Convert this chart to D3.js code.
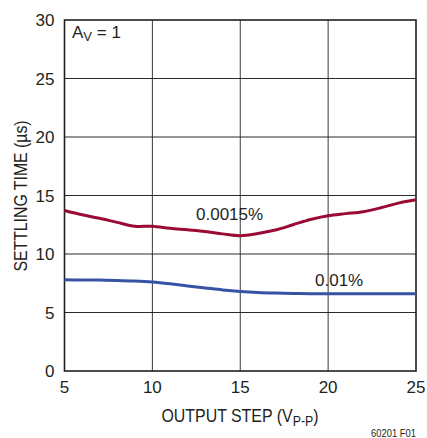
<!DOCTYPE html>
<html>
<head>
<meta charset="utf-8">
<script src="https://cdn.jsdelivr.net/npm/d3@7"></script>
<style>
  body { margin: 0; background: #fff; }
  text { font-family: "Liberation Sans Narrow", "Liberation Sans", sans-serif; fill: #231f20; }
</style>
</head>
<body>
<div id="chart"></div>
<script>
const width = 427, height = 438;
const margin = {top: 20, right: 11, bottom: 67, left: 64.5};

// data
const outputStep = [5, 6, 7, 8, 9, 10, 11, 12, 13, 14, 15, 16, 17, 18, 19, 20, 21, 22, 23, 24, 25];
const settle0015 = [13.72, 13.35, 13.05, 12.7, 12.37, 12.37, 12.2, 12.07, 11.93, 11.72, 11.57, 11.75, 12.05, 12.5, 12.95, 13.27, 13.45, 13.62, 13.95, 14.35, 14.63];
const settle001 = [7.8, 7.78, 7.77, 7.74, 7.69, 7.6, 7.45, 7.27, 7.1, 6.93, 6.8, 6.71, 6.66, 6.63, 6.61, 6.6, 6.6, 6.6, 6.6, 6.6, 6.6];
const xTicks = [5, 10, 15, 20, 25];
const yTicks = [0, 5, 10, 15, 20, 25, 30];

const svg = d3.select('#chart').append('svg')
    .attr('width', width).attr('height', height);

const x = d3.scaleLinear().domain([5, 25]).range([margin.left, width - margin.right]);
const y = d3.scaleLinear().domain([0, 30]).range([height - margin.bottom, margin.top]);

// grid
svg.append('g').selectAll('line.v')
    .data(xTicks.slice(1, -1))
    .enter().append('line')
    .attr('x1', d => x(d)).attr('x2', d => x(d))
    .attr('y1', y(30)).attr('y2', y(0))
    .attr('stroke', '#3a3a3a').attr('stroke-width', 1);

svg.append('g').selectAll('line.h')
    .data(yTicks.slice(1, -1))
    .enter().append('line')
    .attr('x1', x(5)).attr('x2', x(25))
    .attr('y1', d => y(d)).attr('y2', d => y(d))
    .attr('stroke', '#2a2a2a').attr('stroke-width', 1);

// frame
svg.append('rect')
    .attr('x', x(5)).attr('y', y(30))
    .attr('width', x(25) - x(5)).attr('height', y(0) - y(30))
    .attr('fill', 'none').attr('stroke', '#231f20').attr('stroke-width', 1.6);

// tick labels
svg.append('g').selectAll('text')
    .data(yTicks)
    .enter().append('text')
    .attr('x', x(5) - 10).attr('y', d => y(d) + 6)
    .attr('text-anchor', 'end')
    .style('font-size', '17px')
    .text(d => d);

svg.append('g').selectAll('text')
    .data(xTicks)
    .enter().append('text')
    .attr('x', d => x(d)).attr('y', y(0) + 22)
    .attr('text-anchor', 'middle')
    .style('font-size', '17px')
    .text(d => d);

// axis titles (squeezed horizontally to look like the narrow font of the original)
const xt = svg.append('text')
    .attr('transform', 'translate(240,422) scale(0.885,1)')
    .attr('text-anchor', 'middle')
    .style('font-size', '18px');
xt.append('tspan').text('OUTPUT STEP (V');
xt.append('tspan').attr('dy', 4).style('font-size', '14px').text('P-P');
xt.append('tspan').attr('dy', -4).text(')');

svg.append('text')
    .attr('transform', 'translate(27,196) rotate(-90) scale(0.88,1)')
    .attr('text-anchor', 'middle')
    .style('font-size', '18px')
    .text('SETTLING TIME (µs)');

const av = svg.append('text')
    .attr('x', 72).attr('y', 38)
    .style('font-size', '17px');
av.append('tspan').text('A');
av.append('tspan').attr('dy', 3).style('font-size', '13px').text('V');
av.append('tspan').attr('dy', -3).text(' = 1');

svg.append('text')
    .attr('x', 416).attr('y', 437)
    .attr('text-anchor', 'end')
    .attr('textLength', 45).attr('lengthAdjust', 'spacingAndGlyphs')
    .style('font-size', '11px')
    .text('60201 F01');

// curves
const line = d3.line()
    .curve(d3.curveCatmullRom)
    .x(d => x(d[0]))
    .y(d => y(d[1]));

svg.append('path')
    .attr('d', line(d3.zip(outputStep, settle0015)))
    .attr('fill', 'none').attr('stroke', '#9a0a34').attr('stroke-width', 3);

svg.append('path')
    .attr('d', line(d3.zip(outputStep, settle001)))
    .attr('fill', 'none').attr('stroke', '#3653a4').attr('stroke-width', 3);

// curve labels
svg.append('text')
    .attr('x', 196).attr('y', 220)
    .style('font-size', '17px')
    .text('0.0015%');

svg.append('text')
    .attr('x', 315).attr('y', 286)
    .style('font-size', '17px')
    .text('0.01%');
</script>
</body>
</html>
